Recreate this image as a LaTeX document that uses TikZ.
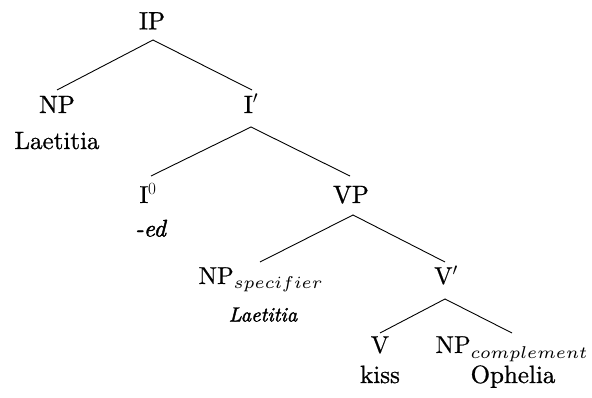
\RequirePackage{fix-cm}
\documentclass[tikz,border=0pt]{standalone}
\usepackage{graphicx}
\usepackage{fontspec}
\setmainfont{lmroman10-regular.otf}[ItalicFont=lmroman10-italic.otf,BoldFont=lmroman10-bold.otf,BoldItalicFont=lmroman10-bolditalic.otf,FakeBold=0.4]
\newfontfamily\ut{lmroman10-regular.otf}[ItalicFont=lmroman10-italic.otf,FakeBold=0.9]
\newfontfamily\uti{lmroman10-italic.otf}[FakeBold=1.8]
\usetikzlibrary{calc}
\newcommand{\subsc}[1]{\raisebox{-5pt}{\scalebox{2.85}{\fontsize{6}{7}\selectfont$#1$}}}
\begin{document}
\begin{tikzpicture}[x=1pt,y=-1pt,
  cat/.style={anchor=base,inner sep=0pt,font=\fontsize{24.5}{28}\selectfont},
  wrd/.style={anchor=base,inner sep=0pt,font=\fontsize{25}{29}\selectfont\ut},
  itw/.style={anchor=base,inner sep=0pt},
  branch/.style={line width=0.9pt}]
\useasboundingbox (0,0) rectangle (592,398);
\node[wrd] (IP) at (152,29.3) {IP};
\node[wrd] (NP1) at (57,113) {NP};
\node[wrd] (L1) at (57,149) {Laetitia};
\node[wrd] (Ib) at (251,113) {I$'$};
\node[cat] (I0) at (148,203) {I$^0$};
\node[itw,font=\fontsize{24}{28}\selectfont\uti] (ed) at (150.5,236.5) {-ed};
\node[wrd] (VP) at (351,203) {VP};
\node[cat] (NPs) at (260.5,284) {NP\subsc{specifier}};
\node[itw,font=\fontsize{20.5}{24}\selectfont\uti] (L2) at (263,321.5) {Laetitia};
\node[cat] (Vb) at (446,284) {V$'$};
\node[cat] (V) at (380,353) {V};
\node[cat] (NPc) at (511.5,353) {NP\subsc{complement}};
\node[wrd] (kiss) at (380,383) {kiss};
\node[wrd] (Oph) at (513,383) {Ophelia};
\draw[branch] ($(NP1.base)+(0,-23)$) -- ($(IP.base)+(1,10.7)$) -- ($(Ib.base)+(1,-23)$);
\draw[branch] ($(I0.base)+(3,-27)$) -- ($(Ib.base)+(0,14)$) -- ($(VP.base)+(-1,-27)$);
\draw[branch] ($(NPs.base)+(-0.5,-22)$) -- ($(VP.base)+(2,12)$) -- ($(Vb.base)+(-1,-22)$);
\draw[branch] ($(V.base)+(0,-20)$) -- ($(Vb.base)+(-1,15)$) -- ($(NPc.base)+(0.5,-20)$);
\end{tikzpicture}
\end{document}
